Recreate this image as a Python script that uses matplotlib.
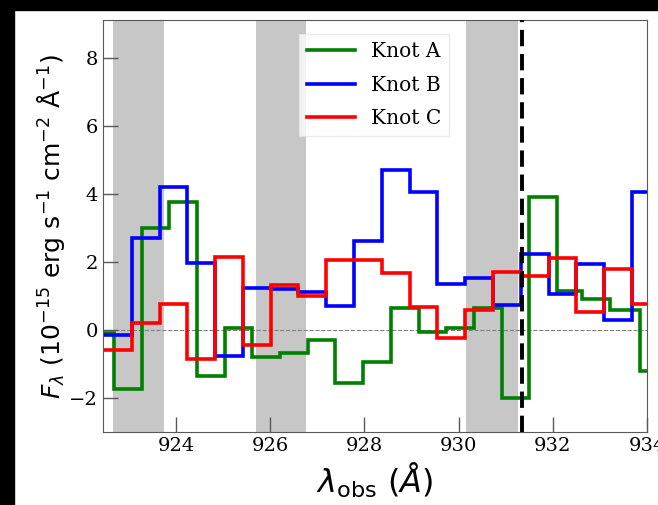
import matplotlib
matplotlib.use("Agg")
from matplotlib import pyplot as plt
from matplotlib.patches import Rectangle

plt.rcParams["font.family"] = "DejaVu Serif"
plt.rcParams["mathtext.fontset"] = "dejavusans"

# bin edges (Angstrom) for knots B and C, and for knot A
edges_bc = [922.47, 923.06, 923.65, 924.24, 924.83, 925.42, 926.01, 926.60,
            927.19, 927.78, 928.37, 928.96, 929.55, 930.14, 930.73, 931.32,
            931.91, 932.50, 933.09, 933.68, 934.27]
edges_a = [922.09, 922.68, 923.27, 923.86, 924.44, 925.03, 925.62, 926.21,
           926.80, 927.38, 927.97, 928.56, 929.15, 929.74, 930.32, 930.91,
           931.50, 932.09, 932.62, 933.22, 933.85, 934.44]

# flux in 1e-15 erg/s/cm2/A
knot_a = [-0.1, -1.74, 3.0, 3.75, -1.35, 0.05, -0.8, -0.68, -0.3, -1.55,
          -0.95, 0.65, -0.06, 0.04, 0.63, -2.0, 3.9, 1.15, 0.9, 0.58, -1.2]
knot_b = [-0.15, 2.7, 4.2, 1.95, -0.77, 1.22, 1.2, 1.1, 0.7, 2.6,
          4.7, 4.05, 1.35, 1.53, 0.74, 2.24, 1.06, 1.94, 0.3, 4.05]
knot_c = [-0.6, 0.2, 0.75, -0.85, 2.15, -0.45, 1.32, 1.0, 2.06, 2.06,
          1.66, 0.68, -0.25, 0.58, 1.7, 1.58, 2.12, 0.53, 1.8, 0.77]

# masked wavelength ranges and reference line
bands = [(922.66, 923.74), (925.69, 926.75), (930.15, 931.26)]
line_wave = 931.35

fig = plt.figure(figsize=(6.58, 5.05), dpi=100)
ax = fig.add_axes([0.1565, 0.1446, 0.827, 0.8156])

for lo, hi in bands:
    ax.axvspan(lo, hi, color="0.78", lw=0, zorder=0)
ax.axhline(0, color="gray", ls="--", lw=0.8, zorder=1)

ax.stairs(knot_a, edges_a, baseline=None, color="green", lw=2.6, label="Knot A", zorder=2)
ax.stairs(knot_b, edges_bc, baseline=None, color="blue", lw=2.6, label="Knot B", zorder=3)
ax.stairs(knot_c, edges_bc, baseline=None, color="red", lw=2.6, label="Knot C", zorder=4)
ax.axvline(line_wave, color="black", ls=(0, (4.2, 2.0)), lw=2.8, zorder=5)

ax.set_xlim(922.45, 934.0)
ax.set_ylim(-3.0, 9.1)
ax.set_xticks([924, 926, 928, 930, 932, 934])
ax.set_yticks([-2, 0, 2, 4, 6, 8])
ax.tick_params(direction="in", length=11, width=1, labelsize=14, color="0.35")
for s in ax.spines.values():
    s.set_color("0.35")

ax.set_xlabel(r"$\lambda_{\rm obs}\ (\mathit{Å})$", fontsize=23, labelpad=4)
ax.set_ylabel(r"$F_\lambda\ (10^{-15}\ \mathrm{erg\ s^{-1}\ cm^{-2}\ Å^{-1}})$",
              fontsize=18, labelpad=2)

leg = ax.legend(loc="upper center", bbox_to_anchor=(0.498, 0.99), fontsize=14.5,
                handlelength=2.4, labelspacing=0.72, frameon=True, fancybox=False)
leg.get_frame().set_edgecolor("0.9")

# dark screenshot border at left and top
fig.patches.append(Rectangle((0, 0), 14 / 658, 1, transform=fig.transFigure, color="black", zorder=-1))
fig.patches.append(Rectangle((0, 1 - 10 / 505), 1, 10 / 505, transform=fig.transFigure, color="black", zorder=-1))

fig.savefig("out.png", dpi=100)
